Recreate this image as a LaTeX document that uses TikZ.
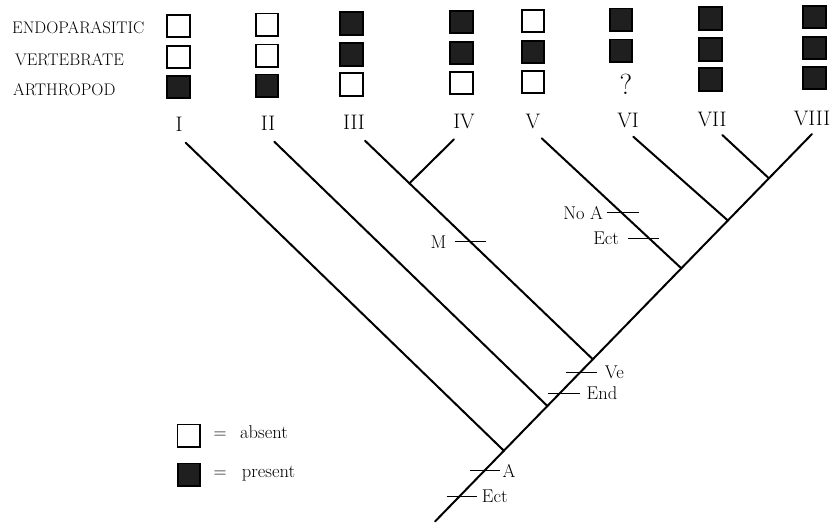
\documentclass[tikz,border=0pt]{standalone}
\usepackage{fontspec}
\usetikzlibrary{calc}
\begin{document}
\begin{tikzpicture}[x=1pt,y=-1pt,
  box/.style={draw=black, line width=1.8pt, minimum size=22.5pt, inner sep=0pt},
  boxa/.style={box, fill=white},
  boxp/.style={box, fill=black!88},
  branch/.style={line width=2pt, line cap=round},
  tickmark/.style={line width=1.3pt},
  rowlabel/.style={anchor=base west, inner sep=0pt, font=\fontsize{16.8}{19}\selectfont},
  taxon/.style={anchor=base, inner sep=0pt, font=\fontsize{21}{24}\selectfont},
  ticklabel/.style={inner sep=0pt, font=\fontsize{18.5}{21}\selectfont},
  legendtext/.style={anchor=base west, inner sep=0pt, font=\fontsize{18.5}{21}\selectfont}]
\useasboundingbox (0,0) rectangle (837,523);

% character rows
\node[rowlabel] (rEnd) at (12,33.3) {ENDOPARASITIC};
\node[rowlabel] (rVer) at (15,65) {VERTEBRATE};
\node[rowlabel] (rArt) at (13,95) {ARTHROPOD};

% character states per taxon: a = absent, p = present
\foreach \n/\x/\y/\s in {I/178.5/26/a, II/267/24.7/a, III/351.5/23.5/p, IV/461.5/22/p,
                         V/533/21/a, VI/621/19.7/p, VII/710.5/18.4/p, VIII/814.5/17/p}
  \node[box\s] (e\n) at (\x,\y) {};
\foreach \n/\x/\y/\s in {I/178.5/57/a, II/267/55.7/a, III/351.5/54.5/p, IV/461.5/53/p,
                         V/533/52/p, VI/621/50.7/p, VII/710.5/49.4/p, VIII/814.5/48/p}
  \node[box\s] (v\n) at (\x,\y) {};
\foreach \n/\x/\y/\s in {I/178.5/87/p, II/267/85.7/p, III/351.5/84.5/a, IV/461.5/83/a,
                         V/533/82/a, VII/710.5/79.4/p, VIII/814.5/78/p}
  \node[box\s] (a\n) at (\x,\y) {};
\node[inner sep=0pt, font=\fontsize{29}{32}\selectfont] (aVI) at (626,84) {?};

% taxon names
\foreach \n/\x/\y in {I/179/131.7, II/268/130.8, III/354/129.8, IV/464/128.7,
                      V/533/128, VI/628/127, VII/712/126.1, VIII/812/125}
  \node[taxon] (n\n) at (\x,\y) {\n};

% tree
\coordinate (R) at (435,521.5);
\coordinate (tVIII) at (812,134);
\coordinate (tI) at (185.7,142.7);
\coordinate (tII) at (274.3,141.7);
\coordinate (tIII) at (365,140.7);
\coordinate (tIV) at (454,139.3);
\coordinate (tV) at (541.7,138.3);
\coordinate (tVI) at (633.3,136.7);
\coordinate (tVII) at (722.3,135);

\coordinate (jI) at ($(R)!0.1827!(tVIII)$);
\coordinate (jII) at ($(R)!0.2981!(tVIII)$);
\coordinate (jIII) at ($(R)!0.4186!(tVIII)$);
\coordinate (jV) at ($(R)!0.6534!(tVIII)$);
\coordinate (jVI) at ($(R)!0.7768!(tVIII)$);
\coordinate (jVII) at ($(R)!0.8857!(tVIII)$);
\coordinate (kIV) at ($(tIII)!0.195!(jIII)$);

\draw[branch] (R) -- (tVIII);
\draw[branch] (tI) -- (jI);
\draw[branch] (tII) -- (jII);
\draw[branch] (tIII) -- (jIII);
\draw[branch] (tIV) -- (kIV);
\draw[branch] (tV) -- (jV);
\draw[branch] (tVI) -- (jVI);
\draw[branch] (tVII) -- (jVII);

% character changes on the trunk
\coordinate (mEct) at ($(R)!0.064!(tVIII)$);
\coordinate (mEctA) at ($(mEct)+(-12.4,0)$);
\coordinate (mEctB) at ($(mEct)+(17.6,0)$);
\draw[tickmark] (mEctA) -- (mEctB);
\node[ticklabel, anchor=west] (lEct) at ($(mEctB)+(5,0)$) {Ect};

\coordinate (mA) at ($(R)!0.1311!(tVIII)$);
\coordinate (mAA) at ($(mA)+(-14.4,0)$);
\coordinate (mAB) at ($(mA)+(15.6,0)$);
\draw[tickmark] (mAA) -- (mAB);
\node[ticklabel, anchor=west] (lA) at ($(mAB)+(2.5,0)$) {A};

\coordinate (mEnd) at ($(R)!0.3308!(tVIII)$);
\coordinate (mEndA) at ($(mEnd)+(-11.4,0)$);
\coordinate (mEndB) at ($(mEnd)+(20.3,0)$);
\draw[tickmark] (mEndA) -- (mEndB);
\node[ticklabel, anchor=west] (lEnd) at ($(mEndB)+(6.5,0)$) {End};

\coordinate (mVe) at ($(R)!0.384!(tVIII)$);
\coordinate (mVeA) at ($(mVe)+(-13.8,0)$);
\coordinate (mVeB) at ($(mVe)+(16.9,0)$);
\draw[tickmark] (mVeA) -- (mVeB);
\node[ticklabel, anchor=west] (lVe) at ($(mVeB)+(8,0)$) {Ve};

% character changes on side branches
\coordinate (mM) at ($(tIII)!0.462!(jIII)$);
\coordinate (mMA) at ($(mM)+(-15.6,0)$);
\coordinate (mMB) at ($(mM)+(16.1,0)$);
\draw[tickmark] (mMA) -- (mMB);
\node[ticklabel, anchor=east] (lM) at ($(mMA)+(-8,0)$) {M};

\coordinate (mNoA) at ($(tV)!0.572!(jV)$);
\coordinate (mNoAA) at ($(mNoA)+(-15,0)$);
\coordinate (mNoAB) at ($(mNoA)+(17.6,0)$);
\draw[tickmark] (mNoAA) -- (mNoAB);
\node[ticklabel, anchor=east] (lNoA) at ($(mNoAA)+(-3.4,0)$) {No A};

\coordinate (mEct2) at ($(tV)!0.769!(jV)$);
\coordinate (mEct2A) at ($(mEct2)+(-21.5,0)$);
\coordinate (mEct2B) at ($(mEct2)+(10.1,0)$);
\draw[tickmark] (mEct2A) -- (mEct2B);
\node[ticklabel, anchor=east] (lEct2) at ($(mEct2A)+(-8.4,0)$) {Ect};

% legend
\node[boxa] (legA) at (188.7,435.7) {};
\node[anchor=base, inner sep=0pt, font=\fontsize{18}{21}\selectfont] (eqA) at (220,438.5) {=};
\node[legendtext] (txA) at (240,438.5) {absent};
\node[boxp] (legP) at (189,474.7) {};
\node[anchor=base, inner sep=0pt, font=\fontsize{18}{21}\selectfont] (eqP) at (220,477) {=};
\node[legendtext] (txP) at (241.7,477) {present};
\end{tikzpicture}
\end{document}
